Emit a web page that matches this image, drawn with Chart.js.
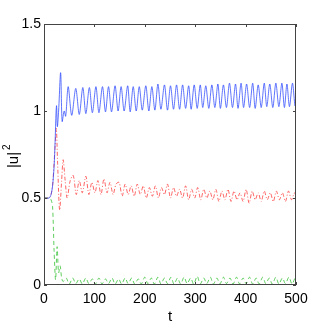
<!DOCTYPE html>
<html>
<head>
<meta charset="utf-8">
<script src="https://cdn.jsdelivr.net/npm/chart.js@4"></script>
<style>
  html, body { margin: 0; padding: 0; background: #fff; }
  #chart { display: block; }
</style>
</head>
<body>
<canvas id="chart" width="327" height="327"></canvas>
<script>
// tick values
const xTicks = [0, 100, 200, 300, 400, 500];
const yTicks = [0, 0.5, 1, 1.5];
const yLabel = '|u|';
const yLabelSup = '2';

// blue (solid)
const tBlue = [0, 10, 14, 17, 20, 22, 24, 25, 26.5, 29, 33, 36, 40, 43,
  48, 55, 63, 70, 77, 83, 90, 96, 103, 109, 116, 122, 128, 134, 141, 147,
  153, 159, 166, 171, 177, 183, 189, 195, 202, 208, 214, 220, 226, 232,
  239, 245, 251, 257, 263, 269, 275, 281, 287, 292, 298, 304, 310, 315,
  321, 327, 333, 339, 345, 350, 356, 362, 368, 374, 380, 385, 391, 396,
  402, 408, 414, 419, 425, 431, 437, 442, 448, 454, 460, 466, 472, 477,
  482, 487, 493, 498, 500];
const blueVals = [0.5, 0.5, 0.52, 0.57, 0.68, 0.82, 1.0, 1.03, 0.91, 1.0, 1.22, 0.94, 1.0, 0.97,
  1.14, 0.975, 1.13, 0.98, 1.135, 0.985, 1.135, 0.99, 1.14, 0.99, 1.14, 0.995, 1.14, 0.995, 1.145, 1.0,
  1.14, 1.0, 1.145, 0.995, 1.14, 1.0, 1.14, 1.005, 1.145, 1.0, 1.14, 1.005, 1.155, 1.01,
  1.15, 1.005, 1.145, 1.01, 1.15, 1.01, 1.15, 1.015, 1.145, 1.01, 1.15, 1.015, 1.15, 1.02,
  1.145, 1.015, 1.15, 1.02, 1.155, 1.015, 1.15, 1.02, 1.16, 1.02, 1.155, 1.015, 1.16, 1.02,
  1.155, 1.02, 1.16, 1.015, 1.15, 1.02, 1.16, 1.025, 1.155, 1.02, 1.16, 1.025, 1.16, 1.02,
  1.155, 1.025, 1.16, 1.03, 1.05];

// red (dash-dot)
const tRed = [0, 10, 14, 17, 20, 22, 24.5, 27, 31, 35, 38, 42, 46, 52, 58, 64, 70, 76,
  83, 89, 95, 101, 107, 113, 119, 125, 131, 137, 143, 149, 155, 161, 167, 173,
  179, 185, 191, 197, 203, 209, 215, 221, 227, 233, 239, 245, 251, 257, 263,
  269, 275, 281, 287, 293, 299, 305, 311, 317, 323, 329, 335, 341, 347, 353,
  359, 365, 371, 377, 383, 389, 395, 401, 407, 413, 419, 425, 431, 437, 443,
  449, 455, 461, 467, 473, 479, 485, 491, 497, 500];
const redVals = [0.5, 0.5, 0.52, 0.57, 0.7, 0.8, 0.9, 0.7, 0.43, 0.6, 0.72, 0.6, 0.5, 0.6, 0.63, 0.52, 0.6, 0.53,
  0.625, 0.52, 0.59, 0.53, 0.6, 0.52, 0.61, 0.53, 0.59, 0.52, 0.58, 0.59, 0.51, 0.58, 0.52, 0.57,
  0.51, 0.58, 0.52, 0.57, 0.5, 0.56, 0.51, 0.57, 0.5, 0.56, 0.52, 0.58, 0.5, 0.56, 0.51,
  0.55, 0.5, 0.57, 0.49, 0.55, 0.5, 0.56, 0.49, 0.55, 0.5, 0.54, 0.49, 0.55, 0.48, 0.54,
  0.49, 0.55, 0.48, 0.54, 0.49, 0.53, 0.48, 0.55, 0.47, 0.54, 0.49, 0.53, 0.48, 0.54, 0.49,
  0.53, 0.48, 0.54, 0.49, 0.53, 0.48, 0.54, 0.49, 0.53, 0.51];

// green (dashed)
const tGreen = [0, 10, 14, 17, 20, 23, 26, 29, 32, 35, 38, 44, 50, 57, 63, 70, 76,
  83, 89, 96, 102, 109, 115, 122, 128, 135, 141, 148, 154, 161, 167, 174, 180,
  187, 193, 200, 206, 213, 219, 226, 232, 239, 245, 252, 258, 265, 271, 278,
  284, 291, 297, 304, 310, 317, 323, 330, 336, 343, 349, 356, 362, 369, 375,
  382, 388, 395, 401, 408, 414, 421, 427, 434, 440, 447, 453, 460, 466, 473,
  479, 486, 492, 498, 500];
const greenVals = [0.5, 0.5, 0.49, 0.45, 0.2, 0.03, 0.22, 0.07, 0.11, 0.04, 0.02, 0.04, 0.005, 0.04, 0.008, 0.035, 0.006,
  0.04, 0.008, 0.035, 0.005, 0.04, 0.006, 0.035, 0.008, 0.04, 0.005, 0.035, 0.006, 0.04, 0.008, 0.04, 0.005,
  0.035, 0.006, 0.045, 0.008, 0.04, 0.005, 0.045, 0.006, 0.04, 0.008, 0.045, 0.005, 0.04, 0.006, 0.045,
  0.008, 0.04, 0.005, 0.05, 0.006, 0.04, 0.008, 0.045, 0.005, 0.04, 0.006, 0.045, 0.008, 0.04, 0.005,
  0.045, 0.006, 0.04, 0.008, 0.045, 0.005, 0.04, 0.006, 0.045, 0.008, 0.04, 0.005, 0.045, 0.006, 0.04,
  0.008, 0.045, 0.006, 0.04, 0.05];

function pts(ts, vs) {
  return ts.map((t, i) => ({ x: t, y: vs[i] }));
}

// box around plot + inward tick marks, matlab style, and the |u|^2 label
const boxPlugin = {
  id: 'box',
  afterDraw(chart) {
    const c = chart.ctx;
    const a = chart.chartArea;
    const sx = chart.scales.x, sy = chart.scales.y;
    c.save();
    c.strokeStyle = '#444';
    c.lineWidth = 1;
    c.strokeRect(a.left + 0.5, a.top + 0.5, a.right - a.left - 1, a.bottom - a.top - 1);
    c.beginPath();
    xTicks.forEach(v => {
      const px = Math.round(sx.getPixelForValue(v)) + 0.5;
      c.moveTo(px, a.bottom); c.lineTo(px, a.bottom - 3);
      c.moveTo(px, a.top); c.lineTo(px, a.top + 3);
    });
    yTicks.forEach(v => {
      const py = Math.round(sy.getPixelForValue(v)) + 0.5;
      c.moveTo(a.left, py); c.lineTo(a.left + 3, py);
      c.moveTo(a.right, py); c.lineTo(a.right - 3, py);
    });
    c.stroke();

    // y label, rotated
    c.translate(18, 160);
    c.rotate(-Math.PI / 2);
    c.fillStyle = '#000';
    c.textBaseline = 'alphabetic';
    c.font = '15px "Liberation Sans"';
    const w = c.measureText(yLabel).width;
    c.fillText(yLabel, -w / 2, 0);
    c.font = '10px "Liberation Sans"';
    c.fillText(yLabelSup, w / 2 + 2, -8);
    c.restore();
  }
};

const ctx = document.getElementById('chart').getContext('2d');

const chart = new Chart(ctx, {
  type: 'line',
  data: {
    datasets: [
      {
        label: 'blue',
        data: pts(tBlue, blueVals),
        borderColor: 'rgb(40,70,255)',
        borderWidth: 0.75,
        pointRadius: 0,
        tension: 0.3
      },
      {
        label: 'red',
        data: pts(tRed, redVals),
        borderColor: 'rgb(255,50,50)',
        borderWidth: 0.75,
        borderDash: [4, 2, 1, 2],
        pointRadius: 0,
        tension: 0.3
      },
      {
        label: 'green',
        data: pts(tGreen, greenVals),
        borderColor: 'rgb(40,190,40)',
        borderWidth: 0.75,
        borderDash: [4, 3],
        pointRadius: 0,
        tension: 0.3
      }
    ]
  },
  options: {
    responsive: false,
    animation: false,
    layout: { padding: { top: 24, right: 31, left: 0, bottom: 0 } },
    plugins: {
      legend: { display: false },
      tooltip: { enabled: false }
    },
    scales: {
      x: {
        type: 'linear',
        min: 0,
        max: 500,
        afterBuildTicks: s => { s.ticks = xTicks.map(v => ({ value: v })); },
        afterFit: s => { s.height = 42; },
        grid: { drawOnChartArea: false, drawTicks: false },
        border: { display: false },
        ticks: {
          color: '#000',
          padding: 6,
          maxRotation: 0,
          font: { family: 'Liberation Sans', size: 14 },
          callback: v => String(v)
        },
        title: {
          display: true,
          text: 't',
          color: '#000',
          font: { family: 'Liberation Sans', size: 15 },
          padding: { top: 0, bottom: 1 }
        }
      },
      y: {
        type: 'linear',
        min: 0,
        max: 1.5,
        afterBuildTicks: s => { s.ticks = yTicks.map(v => ({ value: v })); },
        afterFit: s => { s.width = 44; },
        grid: { drawOnChartArea: false, drawTicks: false },
        border: { display: false },
        ticks: {
          color: '#000',
          padding: 3,
          font: { family: 'Liberation Sans', size: 14 },
          callback: v => String(v)
        }
      }
    }
  },
  plugins: [boxPlugin]
});
</script>
</body>
</html>
